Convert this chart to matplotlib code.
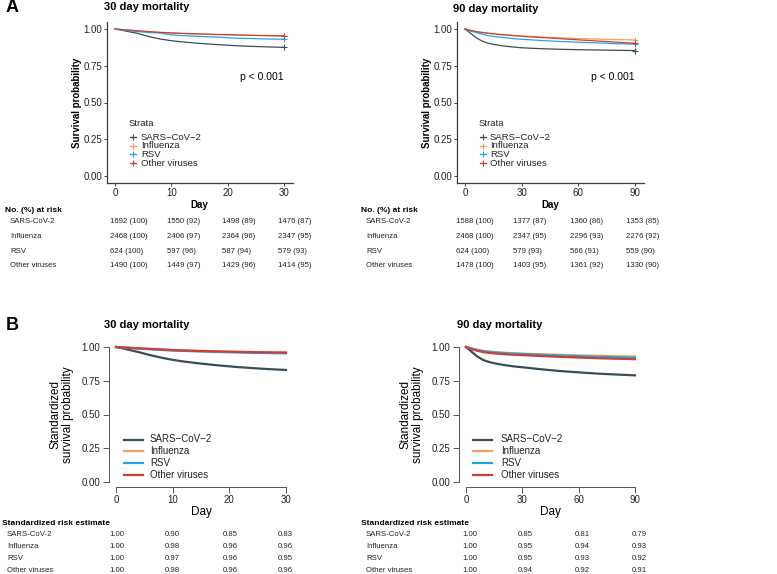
import matplotlib
matplotlib.use("Agg")
import matplotlib.pyplot as plt
from matplotlib.lines import Line2D

plt.rcParams['font.family'] = ['Liberation Sans', 'DejaVu Sans']

W, H = 777, 574

# ---------------- data ----------------
groups = ["SARS\u2212CoV\u22122", "Influenza", "RSV", "Other viruses"]
table_groups = ["SARS-CoV-2", "Influenza", "RSV", "Other viruses"]
colors = ["#3b4d57", "#f3a25c", "#22a6e0", "#cc3f38"]

# Panel A: Kaplan-Meier survival
a30_days = [0, 2, 4, 6, 8, 10, 12, 15, 18, 21, 24, 27, 30]
a30_sars = [1.0, 0.985, 0.97, 0.948, 0.932, 0.92, 0.912, 0.902, 0.894, 0.887, 0.882, 0.878, 0.875]
a30_flu = [1.0, 0.993, 0.987, 0.981, 0.976, 0.972, 0.969, 0.965, 0.962, 0.959, 0.956, 0.954, 0.952]
a30_rsv = [1.0, 0.99, 0.982, 0.976, 0.972, 0.96, 0.955, 0.949, 0.945, 0.938, 0.935, 0.932, 0.930]
a30_oth = [1.0, 0.994, 0.988, 0.982, 0.977, 0.973, 0.970, 0.966, 0.963, 0.960, 0.957, 0.955, 0.953]

a90_days = [0, 3, 6, 9, 12, 15, 20, 25, 30, 40, 50, 60, 70, 80, 90]
a90_sars = [1.0, 0.97, 0.94, 0.918, 0.904, 0.895, 0.885, 0.878, 0.872, 0.866, 0.862, 0.859, 0.857, 0.855, 0.853]
a90_flu = [1.0, 0.99, 0.982, 0.977, 0.972, 0.968, 0.962, 0.957, 0.952, 0.946, 0.94, 0.935, 0.931, 0.928, 0.925]
a90_rsv = [1.0, 0.985, 0.975, 0.965, 0.955, 0.949, 0.942, 0.935, 0.930, 0.922, 0.915, 0.910, 0.905, 0.900, 0.897]
a90_oth = [1.0, 0.99, 0.982, 0.976, 0.971, 0.966, 0.96, 0.955, 0.95, 0.942, 0.934, 0.926, 0.918, 0.91, 0.903]

# Panel B: standardized survival
b30_days = [0, 2, 4, 6, 8, 10, 12, 15, 18, 21, 24, 27, 30]
b30_sars = [1.0, 0.982, 0.962, 0.94, 0.921, 0.905, 0.892, 0.877, 0.864, 0.853, 0.844, 0.836, 0.83]
b30_flu = [1.0, 0.995, 0.99, 0.986, 0.982, 0.978, 0.975, 0.971, 0.968, 0.965, 0.963, 0.961, 0.96]
b30_rsv = [1.0, 0.994, 0.988, 0.983, 0.978, 0.974, 0.971, 0.967, 0.963, 0.96, 0.957, 0.955, 0.953]
b30_oth = [1.0, 0.995, 0.99, 0.986, 0.982, 0.977, 0.974, 0.970, 0.967, 0.964, 0.962, 0.96, 0.958]

b90_days = [0, 3, 6, 9, 12, 15, 20, 25, 30, 40, 50, 60, 70, 80, 90]
b90_sars = [1.0, 0.965, 0.93, 0.905, 0.89, 0.88, 0.867, 0.857, 0.85, 0.835, 0.822, 0.812, 0.803, 0.796, 0.79]
b90_flu = [1.0, 0.99, 0.98, 0.972, 0.967, 0.963, 0.958, 0.954, 0.951, 0.946, 0.942, 0.938, 0.935, 0.932, 0.93]
b90_rsv = [1.0, 0.988, 0.977, 0.969, 0.964, 0.96, 0.955, 0.951, 0.948, 0.942, 0.937, 0.932, 0.928, 0.924, 0.921]
b90_oth = [1.0, 0.985, 0.972, 0.963, 0.957, 0.953, 0.947, 0.943, 0.94, 0.933, 0.927, 0.922, 0.917, 0.913, 0.91]

# Risk tables
ticks30 = [0, 10, 20, 30]
ticks90 = [0, 30, 60, 90]
y_ticks = [0.0, 0.25, 0.5, 0.75, 1.0]

risk30_n = [[1692, 1550, 1498, 1476], [2468, 2406, 2364, 2347], [624, 597, 587, 579], [1490, 1449, 1429, 1414]]
risk30_pct = [[100, 92, 89, 87], [100, 97, 96, 95], [100, 96, 94, 93], [100, 97, 96, 95]]
risk90_n = [[1588, 1377, 1360, 1353], [2468, 2347, 2296, 2276], [624, 579, 566, 559], [1478, 1403, 1361, 1330]]
risk90_pct = [[100, 87, 86, 85], [100, 95, 93, 92], [100, 93, 91, 90], [100, 95, 92, 90]]

std30 = [[1.00, 0.90, 0.85, 0.83], [1.00, 0.98, 0.96, 0.96], [1.00, 0.97, 0.96, 0.95], [1.00, 0.98, 0.96, 0.96]]
std90 = [[1.00, 0.85, 0.81, 0.79], [1.00, 0.95, 0.94, 0.93], [1.00, 0.95, 0.93, 0.92], [1.00, 0.94, 0.92, 0.91]]

# ---------------- figure ----------------
fig = plt.figure(figsize=(W / 100, H / 100), dpi=100)


def rect(x0, y0, x1, y1):
    return [x0 / W, 1 - y1 / H, (x1 - x0) / W, (y1 - y0) / H]


def ftext(x, y, s, **kw):
    kw.setdefault('va', 'center')
    kw.setdefault('ha', 'left')
    fig.text(x / W, 1 - y / H, s, **kw)


def fline(x0, x1, y, color, lw, marker=None):
    fig.add_artist(Line2D([x0 / W, x1 / W], [1 - y / H, 1 - y / H], color=color, lw=lw,
                          transform=fig.transFigure))
    if marker:
        fig.add_artist(Line2D([(x0 + x1) / 2 / W], [1 - y / H], color=color, marker=marker,
                              ms=4, mew=0.8, lw=0, transform=fig.transFigure))


def style_A(ax, xmax, xticks):
    ax.set_xlim(-0.05 * xmax, 1.05 * xmax)
    ax.set_ylim(-0.05, 1.05)
    for s in ['top', 'right']:
        ax.spines[s].set_visible(False)
    for s in ['left', 'bottom']:
        ax.spines[s].set_color('#3a3a3a')
        ax.spines[s].set_linewidth(0.9)
    ax.set_xticks(xticks)
    ax.set_yticks(y_ticks)
    ax.set_yticklabels([f"{v:.2f}" for v in y_ticks])
    ax.tick_params(labelsize=7, length=2, width=0.7, color='#3a3a3a', labelcolor='#222222', pad=1)
    ax.set_xlabel("Day", fontsize=7, fontweight='bold', labelpad=1.5)
    ax.set_ylabel("Survival probability", fontsize=7, fontweight='bold', labelpad=0.8)


def style_B(ax, xmax, xticks):
    ax.set_xlim(-0.04 * xmax, 1.04 * xmax)
    ax.set_ylim(-0.04, 1.04)
    for s in ['top', 'right']:
        ax.spines[s].set_visible(False)
    ax.spines['left'].set_bounds(0, 1)
    ax.spines['bottom'].set_bounds(0, xmax)
    for s in ['left', 'bottom']:
        ax.spines[s].set_color('#555555')
        ax.spines[s].set_linewidth(0.7)
    ax.set_xticks(xticks)
    ax.set_yticks(y_ticks)
    ax.set_yticklabels([f"{v:.2f}" for v in y_ticks])
    ax.tick_params(labelsize=7, length=4, width=0.7, color='#555555', labelcolor='#222222', pad=2.5)
    ax.tick_params(axis='x', pad=1.5)
    ax.set_xlabel("Day", fontsize=8.5, labelpad=0.5)
    ax.set_ylabel("Standardized\nsurvival probability", fontsize=8.5, labelpad=5, linespacing=1.1)


# ---- Panel A ----
axA1 = fig.add_axes(rect(106.5, 21.6, 292.5, 183.4))
axA2 = fig.add_axes(rect(456.5, 21.6, 643.5, 183.4))
for ax, days, series, xmax, xt in [
        (axA1, a30_days, [a30_sars, a30_flu, a30_rsv, a30_oth], 30, ticks30),
        (axA2, a90_days, [a90_sars, a90_flu, a90_rsv, a90_oth], 90, ticks90)]:
    for vals, c in zip(series, colors):
        ax.plot(days, vals, color=c, lw=0.9)
        ax.plot([days[-1]], [vals[-1]], marker='+', color=c, ms=4, mew=0.8)
    style_A(ax, xmax, xt)
    ax.text(0.95, 0.66, "p < 0.001", transform=ax.transAxes, fontsize=7.5, ha='right', va='center')

ftext(6, 8, "A", fontsize=13, fontweight='bold')
ftext(104, 7.5, "30 day mortality", fontsize=8, fontweight='bold')
ftext(453, 8.5, "90 day mortality", fontsize=8, fontweight='bold')

for (lx, tx) in [(129, 141), (479, 490)]:
    ftext(lx, 123, "Strata", fontsize=6.8, color='#222222')
    for i, (g, c) in enumerate(zip(groups, colors)):
        y = 137 + i * 8.7
        fline(lx + 0.5, lx + 7, y, c, 0.9, marker='+')
        ftext(tx, y, g, fontsize=6.8, color='#222222')

# risk tables A
rowsA = [221.7, 236.7, 251, 265.7]
colsA30 = [110, 167, 222.5, 278]
colsA90 = [456, 513, 569.5, 626]
for hx, lx, cols, ns, ps in [(5, 10, colsA30, risk30_n, risk30_pct),
                             (361, 366, colsA90, risk90_n, risk90_pct)]:
    ftext(hx, 210, "No. (%) at risk", fontsize=6, fontweight='bold')
    for r, y in enumerate(rowsA):
        ftext(lx, y, table_groups[r], fontsize=5.6, color='#222222')
        for c, x in enumerate(cols):
            ftext(x, y, f"{ns[r][c]} ({ps[r][c]})", fontsize=5.6, color='#222222')

# ---- Panel B ----
axB1 = fig.add_axes(rect(109.2, 341.6, 292.8, 487.4))
axB2 = fig.add_axes(rect(459.2, 341.6, 641.8, 487.4))
for ax, days, series, xmax, xt in [
        (axB1, b30_days, [b30_sars, b30_flu, b30_rsv, b30_oth], 30, ticks30),
        (axB2, b90_days, [b90_sars, b90_flu, b90_rsv, b90_oth], 90, ticks90)]:
    for vals, c in zip(series, colors):
        ax.plot(days, vals, color=c, lw=1.6)
    style_B(ax, xmax, xt)

ftext(6, 325, "B", fontsize=13, fontweight='bold')
ftext(104, 325, "30 day mortality", fontsize=8, fontweight='bold')
ftext(457, 325, "90 day mortality", fontsize=8, fontweight='bold')

for (lx0, lx1, tx) in [(124, 143, 150), (473, 492, 501)]:
    for i, (g, c) in enumerate(zip(groups, colors)):
        y = 439.5 + i * 11.7
        fline(lx0, lx1, y, c, 1.6)
        ftext(tx, y, g, fontsize=7, color='#222222')

rowsB = [534, 546, 558.3, 571]
colsB30 = [109, 165, 223, 278]
colsB90 = [462, 518, 575, 632]
for hx, lx, cols, vals in [(2, 7, colsB30, std30), (361, 366, colsB90, std90)]:
    ftext(hx, 523.3, "Standardized risk estimate", fontsize=6, fontweight='bold')
    for r, y in enumerate(rowsB):
        ftext(lx, y, table_groups[r], fontsize=5.6, color='#222222')
        for c, x in enumerate(cols):
            ftext(x, y, f"{vals[r][c]:.2f}", fontsize=5.6, color='#222222')

fig.savefig("out.png", dpi=100)
